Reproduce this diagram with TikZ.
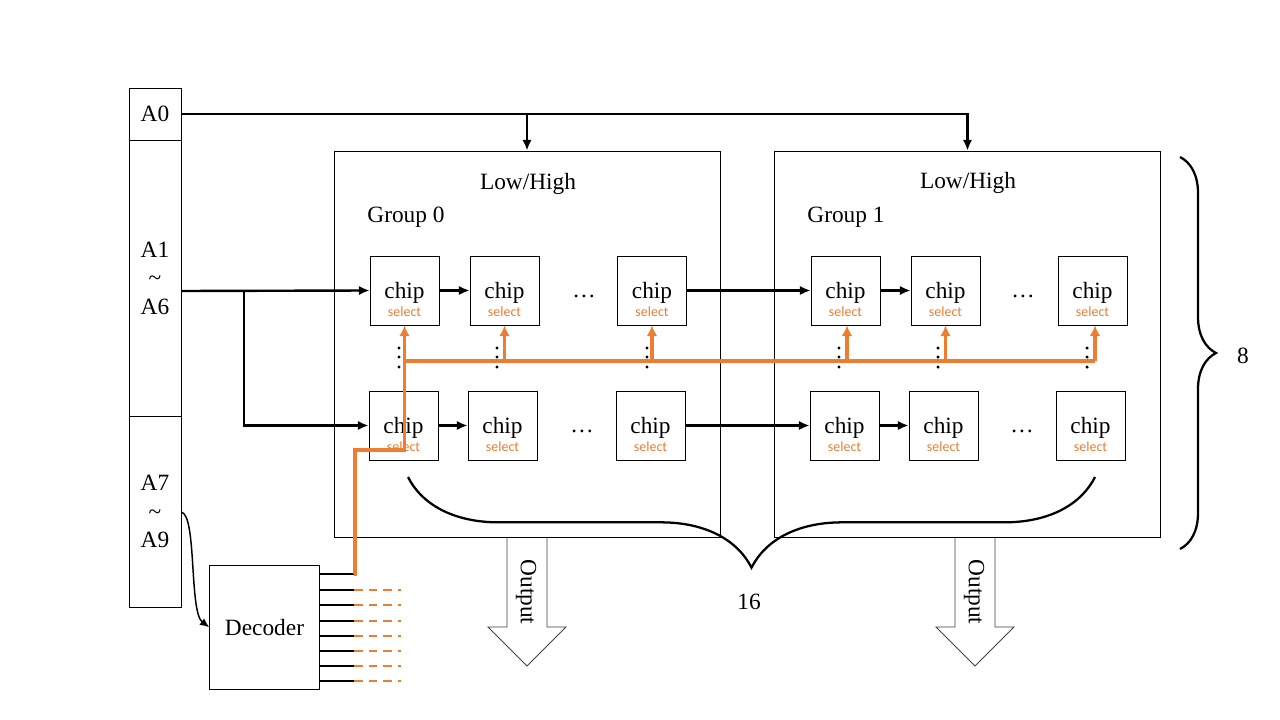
\documentclass[tikz,border=0pt]{standalone}
\usepackage{fontspec}
\setmainfont{Liberation Serif}
\newfontfamily\selfont{Carlito}
\usetikzlibrary{arrows.meta,decorations.pathreplacing}
\definecolor{selorange}{RGB}{237,125,49}
\tikzset{
    addrbox/.style={draw, line width=0.6pt, minimum width=39pt, align=center, inner sep=0pt},
    grpbox/.style={draw, line width=0.6pt, minimum width=289.5pt, minimum height=289.5pt},
    chipbox/.style={draw, line width=0.6pt, minimum size=51.75pt, inner sep=0pt, text height=16.5pt, text depth=4pt, label={[seltext]south:select}},
    seltext/.style={anchor=south, text=selorange, font=\selfont\fontsize{10.5}{12}\selectfont, inner sep=0pt, yshift=6.5pt},
    decbox/.style={draw, line width=0.6pt, minimum width=82.2pt, minimum height=93pt},
    busarrow/.style={line width=1.8pt, -{Latex[length=8pt,width=7pt]}},
    selline/.style={draw=selorange, line width=2.3pt},
    selarrow/.style={selline, -{Latex[length=8pt,width=8pt]}},
    seldash/.style={draw=selorange, line width=1.5pt, dash pattern=on 6.5pt off 4.5pt},
    thinline/.style={line width=0.8pt},
    outarrow/.style={draw=black!75, line width=0.6pt},
    vdot/.style={fill, circle, inner sep=0pt, minimum size=2.6pt},
    bracestyle/.style={line width=1.7pt, decorate, decoration={brace, amplitude=#1}}
}
\begin{document}
\begin{tikzpicture}[x=0.75pt, y=-0.75pt, font=\fontsize{17.5}{21.4}\selectfont]
                \useasboundingbox (0,0) rectangle (1280,720);
                \node[addrbox, minimum height=39pt] (a0) at (155,114) {A0};
                \node[addrbox, minimum height=207pt] (a16) at (155,278) {A1\\\textasciitilde\\A6};
                \node[addrbox, minimum height=143.25pt] (a79) at (155,511.5) {A7\\\textasciitilde\\A9};
                \node[grpbox] (g0) at (527,344) {};
                \node[grpbox] (g1) at (967.5,344) {};
                \node (lh0) at (528,184) {Low/High};
                \node (lh1) at (968,183) {Low/High};
                \node (gn0) at (406,217) {Group 0};
                \node (gn1) at (846,217) {Group 1};
                \node[chipbox] (g0t1) at (404.5,290.5) {chip};
                \node[chipbox] (g0t2) at (504.5,290.5) {chip};
                \node[chipbox] (g0tn) at (652,290.5) {chip};
                \node[chipbox] (g0b1) at (403.5,425.5) {chip};
                \node[chipbox] (g0b2) at (502.5,425.5) {chip};
                \node[chipbox] (g0bn) at (650.5,425.5) {chip};
                \node[chipbox] (g1t1) at (845.5,290.5) {chip};
                \node[chipbox] (g1t2) at (945.5,290.5) {chip};
                \node[chipbox] (g1tn) at (1092.5,290.5) {chip};
                \node[chipbox] (g1b1) at (844.5,425.5) {chip};
                \node[chipbox] (g1b2) at (943.5,425.5) {chip};
                \node[chipbox] (g1bn) at (1090.5,425.5) {chip};
                \node (h0t) at (584,296) {\dots};
                \node (h0b) at (582,431) {\dots};
                \node (h1t) at (1023,296) {\dots};
                \node (h1b) at (1022,431) {\dots};
                \foreach \x in {399,497,647,839,938,1087}
                    \foreach \y in {348,357,367}
                        \node[vdot] at (\x,\y) {};
                \node[decbox] (dec) at (264.5,627.3) {Decoder};
                \draw[busarrow] (a0.east) -| (g0.north);
                \draw[busarrow] (a0.east) -| (g1.north);
                \coordinate (split) at (244,291);
                \draw[busarrow] (a16.east |- split) -- (g0t1.west);
                \draw[busarrow] (split) |- (g0b1.west);
                \draw[busarrow] (g0t1.east) -- (g0t2.west);
                \draw[busarrow] (g0tn.east) -- (g1t1.west);
                \draw[busarrow] (g1t1.east) -- (g1t2.west);
                \draw[busarrow] (g0b1.east) -- (g0b2.west);
                \draw[busarrow] (g0bn.east) -- (g1b1.west);
                \draw[busarrow] (g1b1.east) -- (g1b2.west);
                \draw[line width=1.1pt, -{Latex[length=7pt,width=6pt]}] (a79.east |- 0,512) .. controls (197,516) and (189,612) .. (dec.west);
                \foreach \y [count=\i] in {574,590,605,621,636,651,666,681}
                    \draw[thinline] (dec.east |- 0,\y) -- (354,\y) coordinate (o\i);
                \foreach \i in {2,...,8}
                    \draw[seldash] (o\i) -- ++(47,0);
                \coordinate (bend) at (g0t1.south |- 0,450);
                \coordinate (busL) at (g0t1.south |- 0,361);
                \coordinate (busR) at (1095,361);
                \draw[selarrow] (o1) -- (355,574) |- (bend) -- (g0t1.south);
                \draw[selline] (busL) -- (busR);
                \draw[selarrow] (g0t2.south |- busL) -- (g0t2.south);
                \draw[selarrow] (g0tn.south |- busL) -- (g0tn.south);
                \draw[selarrow] (847,361) -- (g1t1.south -| 847,0);
                \draw[selarrow] (g1t2.south |- busL) -- (g1t2.south);
                \draw[selarrow] (busR) -- (g1tn.south -| busR);
                \draw[outarrow] (507,537) -- (507,627) -- (488,627) -- (527,666) -- (566,627) -- (547,627) -- (547,537);
                \draw[outarrow] (955,537) -- (955,627) -- (936,627) -- (975,666) -- (1014,627) -- (995,627) -- (995,537);
                \node[rotate=-90] (out0) at (526,592) {Output};
                \node[rotate=-90] (out1) at (974,592) {Output};
                \draw[bracestyle=68pt] (1095,477) -- (408,477);
                \draw[bracestyle=27pt] (1180,157) -- (1180,549);
                \node (n16) at (749,602) {16};
                \node (n8) at (1243,356) {8};
\end{tikzpicture}
\end{document}
